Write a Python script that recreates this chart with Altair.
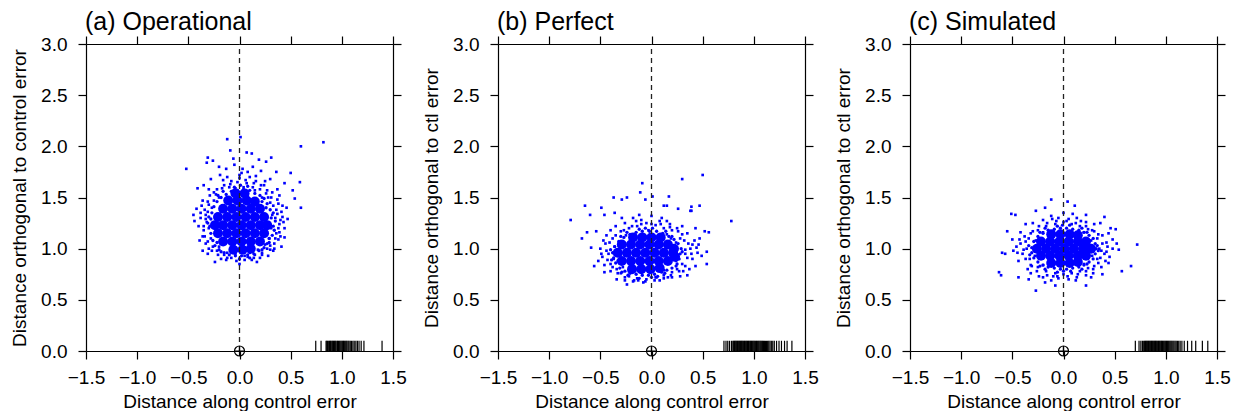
import altair as alt
import pandas as pd

# ---------------- data ----------------
X_TICKS = [-1.5, -1.0, -0.5, 0.0, 0.5, 1.0, 1.5]
Y_TICKS = [0.0, 0.5, 1.0, 1.5, 2.0, 2.5, 3.0]
TITLES = ["(a) Operational", "(b) Perfect", "(c) Simulated"]
X_TITLE = "Distance along control error"
Y_TITLES = ["Distance orthogonal to control error",
            "Distance orthogonal to ctl error",
            "Distance orthogonal to ctl error"]
ORIGIN = [(0.0, 0.0)]

# solid cores of the clouds (where the dots merge into one blue patch)
A_CORE = [(-0.06, 0.99), (0.03, 0.99), (0.11, 1.00),
          (-0.16, 1.07), (-0.07, 1.07), (0.02, 1.07), (0.11, 1.07), (0.20, 1.07),
          (-0.21, 1.15), (-0.12, 1.15), (-0.03, 1.15), (0.06, 1.15), (0.15, 1.15), (0.24, 1.15),
          (-0.24, 1.23), (-0.16, 1.23), (-0.07, 1.23), (0.02, 1.23), (0.11, 1.23), (0.20, 1.23), (0.27, 1.23),
          (-0.21, 1.31), (-0.12, 1.31), (-0.03, 1.31), (0.06, 1.31), (0.15, 1.31), (0.24, 1.31),
          (-0.16, 1.39), (-0.07, 1.39), (0.02, 1.39), (0.11, 1.39), (0.20, 1.39),
          (-0.11, 1.47), (-0.02, 1.47), (0.07, 1.47), (0.15, 1.46),
          (-0.04, 1.54), (0.05, 1.54)]
B_CORE = [(-0.19, 0.80), (-0.10, 0.80), (-0.01, 0.80), (0.08, 0.81),
          (-0.29, 0.88), (-0.20, 0.88), (-0.11, 0.88), (-0.02, 0.88), (0.07, 0.88), (0.16, 0.88),
          (-0.33, 0.96), (-0.24, 0.96), (-0.15, 0.96), (-0.06, 0.96), (0.03, 0.96), (0.12, 0.96), (0.21, 0.96),
          (-0.29, 1.04), (-0.20, 1.04), (-0.11, 1.04), (-0.02, 1.04), (0.07, 1.04), (0.16, 1.04),
          (-0.18, 1.11), (-0.09, 1.11), (0.00, 1.11), (0.09, 1.11), (0.23, 0.92), (0.22, 1.00)]
C_CORE = [(-0.12, 0.86), (-0.03, 0.86), (0.06, 0.86), (0.14, 0.87),
          (-0.22, 0.93), (-0.13, 0.93), (-0.04, 0.93), (0.05, 0.93), (0.14, 0.93), (0.22, 0.93),
          (-0.26, 1.00), (-0.17, 1.00), (-0.08, 1.00), (0.01, 1.00), (0.10, 1.00), (0.19, 1.00), (0.27, 1.00),
          (-0.22, 1.07), (-0.13, 1.07), (-0.04, 1.07), (0.05, 1.07), (0.14, 1.07), (0.22, 1.07),
          (-0.12, 1.14), (-0.03, 1.14), (0.06, 1.14), (0.14, 1.13)]

# crowded dots along the edge of each core
A_EDGE = [(0.33, 1.22), (0.31, 1.30), (0.35, 1.27), (0.32, 1.13), (0.34, 1.18), (0.30, 1.38), (0.29, 1.06),
          (0.33, 1.35), (0.27, 1.44), (0.24, 1.49), (0.20, 1.52), (0.15, 1.54), (0.26, 1.40), (0.22, 1.46),
          (0.10, 1.57), (0.04, 1.58), (-0.02, 1.57), (-0.08, 1.56), (0.08, 1.61), (-0.05, 1.60), (0.01, 1.62),
          (-0.13, 1.53), (-0.18, 1.50), (-0.22, 1.46), (-0.25, 1.41), (-0.16, 1.56), (-0.21, 1.52),
          (-0.27, 1.35), (-0.28, 1.29), (-0.29, 1.22), (-0.28, 1.15), (-0.31, 1.25), (-0.30, 1.31), (-0.26, 1.08),
          (-0.24, 1.03), (-0.20, 0.99), (-0.15, 0.96), (-0.22, 1.06), (-0.18, 0.97),
          (-0.10, 0.94), (-0.04, 0.93), (0.02, 0.93), (0.08, 0.94), (0.14, 0.95), (0.00, 0.90), (0.10, 0.91),
          (0.19, 0.98), (0.24, 1.01), (0.27, 1.05), (0.22, 0.99), (0.29, 1.10)]
B_EDGE = [(0.28, 0.95), (0.29, 1.00), (0.27, 0.90), (0.26, 1.05), (0.30, 0.97), (0.25, 0.85),
          (0.22, 1.09), (0.17, 1.12), (0.11, 1.15), (0.20, 1.12), (0.14, 1.17),
          (0.05, 1.17), (-0.02, 1.17), (-0.09, 1.17), (-0.15, 1.16), (0.01, 1.20), (-0.06, 1.20), (-0.12, 1.19),
          (-0.21, 1.14), (-0.27, 1.11), (-0.32, 1.07), (-0.24, 1.16), (-0.30, 1.12),
          (-0.36, 1.02), (-0.38, 0.96), (-0.37, 0.91), (-0.35, 0.86), (-0.40, 0.99), (-0.39, 0.89),
          (-0.31, 0.81), (-0.26, 0.78), (-0.21, 0.76), (-0.29, 0.77), (-0.23, 0.74),
          (-0.15, 0.75), (-0.09, 0.74), (-0.03, 0.74), (0.03, 0.75), (-0.12, 0.71), (0.00, 0.72), (0.06, 0.73),
          (0.10, 0.77), (0.15, 0.79), (0.20, 0.81), (0.24, 0.83), (0.13, 0.76)]
C_EDGE = [(0.32, 1.00), (0.31, 0.95), (0.31, 1.05), (0.34, 0.98), (0.29, 0.90), (0.29, 1.10), (0.33, 1.03),
          (0.25, 1.13), (0.20, 1.16), (0.15, 1.18), (0.23, 1.16), (0.18, 1.20),
          (0.09, 1.19), (0.03, 1.20), (-0.03, 1.20), (-0.09, 1.19), (0.06, 1.23), (-0.01, 1.23), (-0.06, 1.22),
          (-0.15, 1.18), (-0.20, 1.15), (-0.25, 1.12), (-0.18, 1.20), (-0.23, 1.16),
          (-0.29, 1.07), (-0.31, 1.01), (-0.31, 0.96), (-0.29, 0.91), (-0.34, 1.03), (-0.33, 0.94),
          (-0.25, 0.87), (-0.20, 0.84), (-0.15, 0.82), (-0.23, 0.83), (-0.18, 0.80),
          (-0.09, 0.81), (-0.03, 0.80), (0.03, 0.80), (0.09, 0.81), (-0.06, 0.77), (0.00, 0.78), (0.07, 0.78),
          (0.15, 0.82), (0.20, 0.84), (0.25, 0.87), (0.18, 0.80), (0.23, 0.85)]

# individual dots around the cores and the outliers
A_DOTS = [(-0.52, 1.78), (-0.12, 2.07), (0.01, 2.09), (0.82, 2.04), (0.60, 2.00), (-0.09, 1.96),
          (-0.06, 1.88), (0.07, 1.94), (0.12, 1.93), (-0.31, 1.89), (-0.32, 1.84), (-0.26, 1.86),
          (0.19, 1.87), (0.31, 1.89), (0.26, 1.85), (0.36, 1.75), (0.50, 1.74), (0.59, 1.65),
          (0.52, 1.57), (0.54, 1.49), (0.60, 1.40), (0.44, 1.64), (0.47, 1.29), (0.44, 1.11),
          (-0.41, 1.59), (-0.44, 1.27), (-0.42, 1.39), (-0.24, 0.87), (0.17, 0.87), (0.00, 0.85),
          (-0.13, 0.89), (-0.31, 0.95), (0.30, 1.03), (0.39, 1.16), (0.42, 1.42), (0.39, 1.52),
          (0.13, 1.80), (-0.13, 1.78), (-0.19, 1.72), (0.03, 1.78), (0.00, 1.72),
          (-0.33, 1.05), (-0.35, 1.18), (-0.38, 1.30), (-0.34, 1.38), (-0.31, 1.46), (-0.36, 1.12),
          (-0.40, 1.22), (-0.32, 1.26), (-0.30, 1.00), (-0.33, 1.33), (-0.37, 1.42), (-0.29, 1.52),
          (0.34, 1.05), (0.36, 1.15), (0.39, 1.24), (0.35, 1.30), (0.41, 1.36), (0.33, 1.42),
          (0.37, 1.48), (0.32, 1.55), (0.44, 1.20), (0.38, 1.09), (0.33, 0.98), (0.42, 1.31), (0.36, 1.38),
          (-0.22, 1.58), (-0.15, 1.62), (-0.08, 1.66), (0.00, 1.69), (0.07, 1.64), (0.13, 1.60),
          (0.20, 1.58), (0.26, 1.54), (-0.12, 1.70), (0.04, 1.60), (0.16, 1.66), (-0.25, 1.55),
          (0.24, 1.62), (-0.04, 1.59), (0.10, 1.70),
          (-0.22, 0.98), (-0.15, 0.94), (-0.08, 0.91), (0.00, 0.90), (0.08, 0.92), (0.15, 0.94),
          (0.22, 0.96), (0.27, 1.00), (-0.26, 1.02), (-0.04, 0.95), (0.12, 0.89), (0.20, 0.91), (-0.18, 0.90),
          (-0.28, 1.10), (-0.27, 1.40), (0.29, 1.10), (0.30, 1.45), (-0.20, 1.50), (0.22, 1.50),
          (-0.20, 1.02), (0.25, 1.04), (-0.28, 1.68), (0.08, 1.75), (0.21, 1.76), (-0.05, 1.82),
          (0.30, 1.68), (-0.35, 1.62), (0.16, 1.71), (-0.20, 1.80),
          (-0.30, 1.20), (0.31, 1.20), (-0.31, 1.36), (0.32, 1.33), (-0.10, 1.60), (0.15, 1.57),
          (-0.12, 0.96), (0.05, 0.93), (0.18, 0.99), (-0.25, 1.47), (0.28, 1.50), (0.10, 0.96),
          (-0.30, 1.58), (0.37, 1.58), (-0.39, 1.08), (0.41, 1.02), (-0.36, 0.98), (-0.45, 1.33),
          (0.46, 1.40), (0.28, 0.93),
          (0.38, 1.20), (0.40, 1.28), (0.37, 1.34), (0.35, 1.10), (0.38, 1.44), (0.31, 1.50),
          (0.27, 1.57), (0.21, 1.62), (0.14, 1.64), (0.06, 1.67), (-0.02, 1.65), (-0.09, 1.63),
          (-0.17, 1.59), (-0.23, 1.53), (-0.30, 1.43), (-0.33, 1.29), (-0.35, 1.22), (-0.34, 1.12),
          (-0.31, 1.07), (-0.27, 0.98), (-0.21, 0.94), (-0.12, 0.91), (-0.03, 0.88), (0.05, 0.89),
          (0.14, 0.91), (0.22, 0.94), (0.30, 0.99), (0.34, 1.00), (0.40, 1.12), (-0.38, 1.35),
          (-0.36, 1.47), (0.43, 1.26), (0.25, 1.66), (-0.16, 1.67), (0.02, 1.74)]
B_DOTS = [(-0.79, 1.28), (-0.65, 1.42), (-0.49, 1.40), (-0.37, 1.50), (-0.29, 1.48), (-0.24, 1.50),
          (-0.09, 1.64), (-0.11, 1.55), (-0.06, 1.48), (0.01, 1.51), (0.17, 1.51), (0.30, 1.68),
          (0.50, 1.72), (0.78, 1.27), (0.12, 1.42), (0.15, 1.42), (0.26, 1.39), (0.39, 1.41),
          (0.47, 1.42), (0.39, 1.37), (0.52, 1.17), (0.56, 1.16), (0.54, 0.97), (0.54, 0.85),
          (0.43, 0.83), (-0.68, 1.10), (-0.59, 1.01), (-0.56, 0.83), (-0.52, 0.88), (-0.46, 0.77),
          (-0.34, 0.70), (-0.24, 0.65), (-0.13, 0.69), (0.05, 0.72), (0.20, 0.72), (-0.60, 1.33),
          (-0.46, 1.33), (-0.54, 1.17), (-0.63, 1.16), (-0.36, 1.35), (0.38, 1.37), (0.46, 1.04),
          (-0.40, 0.85), (-0.42, 0.95), (-0.45, 1.05), (-0.38, 1.10), (-0.40, 0.78), (-0.48, 0.92),
          (-0.36, 1.02), (-0.44, 1.13), (-0.37, 0.90), (-0.50, 1.00),
          (0.30, 0.85), (0.33, 0.95), (0.36, 1.05), (0.28, 1.10), (0.40, 0.90), (0.42, 1.08),
          (0.31, 0.78), (0.38, 1.00), (0.45, 0.96), (0.35, 1.15), (0.47, 1.10), (0.25, 0.80),
          (-0.30, 1.17), (-0.22, 1.20), (-0.14, 1.22), (-0.05, 1.25), (0.04, 1.23), (0.12, 1.20),
          (0.20, 1.18), (-0.26, 1.25), (-0.10, 1.28), (0.08, 1.27), (0.18, 1.24), (0.25, 1.20),
          (-0.18, 1.30), (0.00, 1.32), (-0.35, 1.22),
          (-0.30, 0.76), (-0.22, 0.73), (-0.14, 0.71), (-0.05, 0.70), (0.04, 0.72), (0.12, 0.74),
          (0.20, 0.77), (-0.26, 0.69), (-0.08, 0.67), (0.08, 0.69), (0.16, 0.72), (-0.34, 0.80),
          (-0.33, 0.88), (-0.32, 1.03), (0.24, 0.88), (0.24, 1.06), (-0.25, 1.13), (0.15, 1.14),
          (-0.22, 0.78), (0.12, 0.79), (-0.40, 1.18), (0.30, 1.22), (-0.12, 1.33), (0.10, 1.30),
          (-0.46, 0.84), (0.43, 1.20), (0.28, 0.73), (-0.18, 0.68), (-0.29, 1.30), (0.37, 0.80),
          (-0.03, 1.18), (0.19, 1.10), (-0.28, 0.82),
          (0.33, 0.99), (0.35, 0.91), (0.32, 1.08), (0.30, 1.14), (0.26, 1.17), (0.18, 1.21),
          (0.09, 1.24), (0.00, 1.24), (-0.10, 1.24), (-0.19, 1.22), (-0.27, 1.18), (-0.35, 1.13),
          (-0.41, 1.06), (-0.44, 0.98), (-0.43, 0.89), (-0.38, 0.82), (-0.33, 0.76), (-0.26, 0.72),
          (-0.17, 0.69), (-0.06, 0.68), (0.03, 0.69), (0.12, 0.71), (0.19, 0.74), (0.27, 0.78),
          (0.33, 0.83), (0.39, 0.95), (0.40, 1.04), (0.44, 1.01), (-0.47, 1.08), (-0.49, 0.95),
          (0.49, 0.93), (-0.15, 1.27), (0.15, 1.27), (0.35, 0.74)]
C_DOTS = [(-0.63, 0.77), (-0.61, 0.74), (-0.55, 1.17), (-0.60, 0.96), (-0.57, 0.95), (-0.51, 1.34),
          (-0.47, 1.33), (-0.44, 0.72), (-0.27, 0.59), (-0.27, 1.37), (-0.12, 1.48), (0.04, 1.46),
          (0.11, 1.42), (0.40, 1.31), (0.72, 1.04), (0.66, 0.83), (0.57, 0.78), (0.54, 0.99),
          (0.51, 1.19), (0.46, 1.20), (0.36, 1.25), (0.22, 1.33), (0.22, 0.64), (0.12, 0.69),
          (-0.08, 0.64), (-0.18, 0.67), (-0.34, 0.70), (-0.42, 1.16), (-0.37, 1.24), (-0.49, 0.98),
          (-0.18, 1.40), (0.00, 1.35), (0.38, 0.75), (0.44, 0.86), (0.48, 1.09),
          (-0.33, 0.90), (-0.36, 1.00), (-0.34, 1.10), (-0.40, 0.95), (-0.42, 1.05), (-0.31, 0.83),
          (-0.38, 1.12), (-0.30, 1.17), (-0.44, 0.88), (-0.35, 0.80),
          (0.33, 0.90), (0.35, 1.00), (0.33, 1.10), (0.40, 0.95), (0.42, 1.06), (0.30, 0.83),
          (0.38, 1.13), (0.30, 1.17), (0.45, 0.92), (0.37, 0.82), (0.44, 1.15), (0.48, 1.00),
          (-0.25, 1.18), (-0.17, 1.22), (-0.08, 1.24), (0.00, 1.26), (0.08, 1.24), (0.16, 1.22),
          (0.24, 1.19), (-0.20, 1.28), (-0.05, 1.30), (0.05, 1.29), (0.13, 1.30), (0.22, 1.26), (-0.12, 1.32),
          (-0.25, 0.82), (-0.17, 0.78), (-0.08, 0.76), (0.00, 0.75), (0.08, 0.76), (0.16, 0.78),
          (0.24, 0.81), (-0.20, 0.72), (-0.05, 0.71), (0.05, 0.70), (0.13, 0.72), (0.22, 0.74), (-0.12, 0.69),
          (-0.28, 0.93), (-0.27, 1.08), (0.28, 0.93), (0.27, 1.08), (-0.20, 0.84), (0.20, 0.85),
          (-0.20, 1.16), (0.20, 1.16), (-0.46, 1.02), (0.41, 0.88), (-0.30, 1.25), (0.30, 1.24),
          (-0.32, 0.76), (0.29, 0.76), (0.09, 1.34), (-0.10, 0.73), (0.52, 1.05), (-0.50, 1.09),
          (0.37, 0.98), (0.38, 1.05), (0.36, 0.91), (0.34, 1.14), (0.28, 1.18), (0.22, 1.22),
          (0.12, 1.25), (0.03, 1.27), (-0.07, 1.27), (-0.16, 1.25), (-0.24, 1.22), (-0.32, 1.15),
          (-0.37, 1.07), (-0.39, 0.99), (-0.37, 0.90), (-0.32, 0.84), (-0.26, 0.78), (-0.16, 0.74),
          (-0.06, 0.73), (0.04, 0.73), (0.14, 0.75), (0.22, 0.78), (0.29, 0.80), (0.34, 0.86),
          (0.43, 1.02), (0.42, 0.97), (-0.45, 0.96), (-0.43, 1.09), (0.17, 1.27), (-0.11, 1.29),
          (0.27, 0.72), (-0.24, 0.73)]

# rug of control-error magnitudes along the x axis
RUG_A = [0.745, 0.797, 0.846, 0.853, 0.861, 0.872, 0.879, 0.888, 0.894, 0.903, 0.911, 0.918,
         0.927, 0.934, 0.941, 0.952, 0.958, 0.967, 0.975, 0.983, 0.992, 1.001, 1.009, 1.016,
         1.024, 1.033, 1.042, 1.050, 1.061, 1.070, 1.082, 1.094, 1.108, 1.121, 1.137, 1.152,
         1.168, 1.189, 1.216, 1.393]
RUG_B = [0.708, 0.728, 0.745, 0.762, 0.781, 0.795, 0.803, 0.812, 0.818, 0.826, 0.833, 0.841,
         0.848, 0.856, 0.862, 0.871, 0.878, 0.886, 0.893, 0.901, 0.909, 0.916, 0.924, 0.931,
         0.939, 0.947, 0.954, 0.962, 0.969, 0.977, 0.985, 0.993, 1.001, 1.009, 1.018, 1.026,
         1.034, 1.043, 1.051, 1.060, 1.068, 1.077, 1.086, 1.095, 1.104, 1.114, 1.124, 1.135,
         1.146, 1.158, 1.171, 1.185, 1.200, 1.222, 1.246, 1.270, 1.300, 1.325, 1.372]
RUG_C = [0.702, 0.738, 0.756, 0.771, 0.784, 0.793, 0.801, 0.809, 0.816, 0.823, 0.831, 0.838,
         0.846, 0.853, 0.861, 0.868, 0.876, 0.883, 0.891, 0.898, 0.906, 0.913, 0.921, 0.929,
         0.936, 0.944, 0.952, 0.959, 0.967, 0.975, 0.983, 0.991, 0.999, 1.007, 1.015, 1.024,
         1.032, 1.041, 1.050, 1.059, 1.069, 1.079, 1.090, 1.101, 1.113, 1.126, 1.140, 1.157,
         1.180, 1.212, 1.253, 1.292, 1.357, 1.410]

# ---------------- styling ----------------
FONT = "Liberation Sans"
BLUE = "#0000ff"
PANEL = 307
AX = dict(domainColor="black", domainWidth=1.2, tickColor="black", tickWidth=1.2,
          tickSize=8, grid=False, labelFont=FONT, labelFontSize=19, labelColor="black",
          labelOverlap=False, labelFlush=False,
          titleFont=FONT, titleFontSize=19, titleFontWeight="normal", titleColor="black")


def xs():
    return alt.Scale(domain=[X_TICKS[0], X_TICKS[-1]], nice=False, zero=False)


def ys():
    return alt.Scale(domain=[Y_TICKS[0], Y_TICKS[-1]], nice=False, zero=False)


def xy(df_chart, xaxis=None, yaxis=None):
    return df_chart.encode(
        x=alt.X("x:Q", scale=xs(), axis=xaxis),
        y=alt.Y("y:Q", scale=ys(), axis=yaxis),
    )


def panel(title, ytitle, core, edge, dots, rug):
    dots_df = pd.DataFrame(dots, columns=["x", "y"])
    edge_df = pd.DataFrame(edge, columns=["x", "y"])
    core_df = pd.DataFrame(core, columns=["x", "y"])
    rug_df = pd.DataFrame({"x": rug})
    org_df = pd.DataFrame(ORIGIN, columns=["x", "y"])

    pts = xy(alt.Chart(dots_df).mark_square(size=7, color=BLUE, opacity=1),
             alt.Axis(orient="bottom", values=X_TICKS, format=".1f", title=X_TITLE,
                      labelPadding=9, titlePadding=5, **AX),
             alt.Axis(orient="left", values=Y_TICKS, format=".1f", title=ytitle,
                      labelPadding=11, titlePadding=11, **AX))
    blob = xy(alt.Chart(core_df).mark_circle(size=100, color=BLUE, opacity=1))
    rim = xy(alt.Chart(edge_df).mark_circle(size=11, color=BLUE, opacity=1))
    dash = alt.Chart(org_df).mark_rule(color="#222222", strokeWidth=1.3, strokeDash=[5, 4]).encode(
        x=alt.X("x:Q", scale=xs(), axis=None),
        y=alt.YDatum(Y_TICKS[0], scale=ys(), axis=None),
        y2=alt.Y2Datum(Y_TICKS[-1]),
    )
    rugs = alt.Chart(rug_df).mark_rule(color="black", strokeWidth=1.2).encode(
        x=alt.X("x:Q", scale=xs(), axis=None),
        y=alt.YDatum(0.0, scale=ys(), axis=None),
        y2=alt.Y2Datum(0.1),
    )
    ring = xy(alt.Chart(org_df).mark_point(shape="circle", filled=False, size=100, color="black",
                                           strokeWidth=1.2, opacity=1),
              alt.Axis(orient="top", values=X_TICKS, labels=False, title=None, **AX),
              alt.Axis(orient="right", values=Y_TICKS, labels=False, title=None, **AX))
    cross = xy(alt.Chart(org_df).mark_point(shape="M-1,0L1,0M0,-1L0,1", filled=False, size=100,
                                            color="black", strokeWidth=1.2, opacity=1))
    return alt.layer(pts, rim, blob, dash, rugs, ring, cross).resolve_axis(
        x="independent", y="independent"
    ).properties(
        width=PANEL, height=PANEL,
        title=alt.TitleParams(text=title, anchor="start", frame="group", fontSize=25, font=FONT,
                              fontWeight="normal", color="black", baseline="bottom",
                              offset=-25, dx=-1),
    )


panels = [
    panel(TITLES[0], Y_TITLES[0], A_CORE, A_EDGE, A_DOTS, RUG_A),
    panel(TITLES[1], Y_TITLES[1], B_CORE, B_EDGE, B_DOTS, RUG_B),
    panel(TITLES[2], Y_TITLES[2], C_CORE, C_EDGE, C_DOTS, RUG_C),
]

chart = alt.hconcat(*panels, spacing=105, bounds="flush").configure_view(
    stroke=None
).properties(padding={"left": 2, "top": 2, "right": 0, "bottom": 0}, background="white")

chart.save("out.html", embed_options={"renderer": "svg", "actions": False})
